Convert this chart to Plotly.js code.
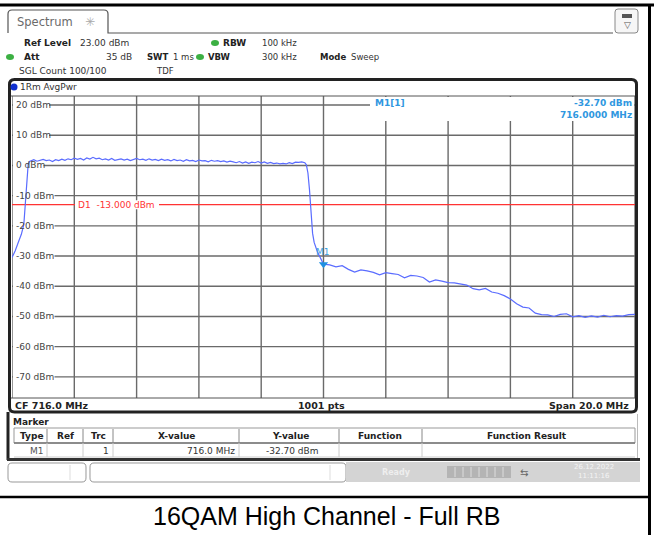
<!DOCTYPE html>
<html>
<head>
<meta charset="utf-8">
<script src="https://cdn.plot.ly/plotly-3.0.1.min.js"></script>
<style>
html,body{margin:0;padding:0;background:#fff;}
#chart{width:654px;height:535px;}
</style>
</head>
<body>
<div id="chart"></div>
<script>
// ---------- data ----------
const freqMHz = [
  706.0, 706.1, 706.2, 706.3, 706.38, 706.43, 706.47, 706.52, 706.56,
  706.6, 706.7, 706.8, 706.9, 707.0, 707.1, 707.2, 707.3, 707.4, 707.5,
  707.6, 707.7, 707.8, 707.9, 708.0, 708.1, 708.2, 708.3, 708.4, 708.5,
  708.6, 708.7, 708.8, 708.9, 709.0, 709.1, 709.2, 709.3, 709.4, 709.5,
  709.6, 709.7, 709.8, 709.9, 710.0, 710.1, 710.2, 710.3, 710.4, 710.5,
  710.6, 710.7, 710.8, 710.9, 711.0, 711.1, 711.2, 711.3, 711.4, 711.5,
  711.6, 711.7, 711.8, 711.9, 712.0, 712.1, 712.2, 712.3, 712.4, 712.5,
  712.6, 712.7, 712.8, 712.9, 713.0, 713.1, 713.2, 713.3, 713.4, 713.5,
  713.6, 713.7, 713.8, 713.9, 714.0, 714.1, 714.2, 714.3, 714.4, 714.5,
  714.6, 714.7, 714.8, 714.9, 715.0, 715.1, 715.2, 715.3, 715.4,
  715.45, 715.5, 715.55, 715.6, 715.65, 715.7, 715.8, 715.9, 716.0,
  716.2, 716.4, 716.6, 716.8, 717.0, 717.2, 717.4, 717.6, 717.8, 718.0,
  718.2, 718.4, 718.6, 718.8, 719.0, 719.2, 719.4, 719.6, 719.8, 720.0,
  720.2, 720.4, 720.6, 720.8, 721.0, 721.2, 721.4, 721.6, 721.8, 722.0,
  722.2, 722.4, 722.6, 722.8, 723.0, 723.2, 723.4, 723.6, 723.8, 724.0,
  724.2, 724.4, 724.6, 724.8, 725.0, 725.2, 725.4, 725.6, 725.8, 726.0
];
const powerDbm = [
  -30.5, -28.3, -25.5, -22.8, -19.5, -12.0, -5.0, 0.5, 1.3,
  1.5, 1.9, 1.4, 1.7, 2.0, 1.6, 1.8, 1.3, 1.9, 1.6,
  2.1, 1.7, 2.2, 1.9, 2.4, 2.0, 2.3, 1.8, 2.5, 2.1,
  2.7, 2.2, 2.4, 1.9, 2.2, 1.8, 2.3, 1.7, 2.0, 2.2,
  1.8, 2.1, 1.6, 2.0, 2.3, 1.9, 2.1, 1.7, 2.2, 1.8,
  2.0, 1.6, 2.1, 1.7, 1.9, 1.5, 2.0, 1.6, 1.8, 1.4,
  1.9, 1.5, 1.7, 1.3, 1.8, 1.5, 1.6, 1.2, 1.7, 1.4,
  1.6, 1.3, 1.5, 1.1, 1.4, 1.2, 0.9, 1.3, 0.8, 1.2,
  0.7, 1.1, 0.9, 1.3, 0.8, 1.2, 0.7, 1.0, 0.6, 0.8,
  0.5, 0.7, 0.5, 0.9, 0.6, 1.1, 1.0, 1.2, 0.9,
  0.2, -2.5, -8.0, -17.0, -22.5, -25.5, -28.5, -30.6, -32.7,
  -32.9, -33.6, -33.2, -34.4, -35.3, -34.6, -34.9, -35.4, -36.2, -35.5,
  -35.8, -36.1, -37.2, -36.4, -36.6, -37.1, -38.6, -37.9, -38.3, -38.8,
  -38.9, -39.3, -39.6, -40.8, -41.2, -40.7, -41.9, -42.3, -43.1, -44.2,
  -45.8, -46.9, -47.2, -48.9, -49.4, -49.5, -50.0, -49.3, -49.1, -50.1,
  -49.7, -50.3, -49.8, -50.2, -49.6, -50.1, -49.7, -49.9, -49.4, -49.3
];
const markerFreq = [716.0];
const markerLevel = [-32.7];
const displayLine = -13;
const xTickVals = [706, 708, 710, 712, 714, 716, 718, 720, 722, 724, 726];
const yTickVals = [20, 10, 0, -10, -20, -30, -40, -50, -60, -70];
const yTickText = ['20 dBm', '10 dBm', '0 dBm', '-10 dBm', '-20 dBm', '-30 dBm', '-40 dBm', '-50 dBm', '-60 dBm', '-70 dBm'];
const xRange = [706, 726];
const yRange = [-77, 23];
const captionText = '16QAM High Channel - Full RB';

// ---------- pixel helpers ----------
const L = 12, R = 635, T = 96, B = 398;
function px(x){ return (x - L) / (R - L); }
function py(y){ return (B - y) / (B - T); }
function pt(x, y){ return px(x).toFixed(5) + ',' + py(y).toFixed(5); }

const shapes = [];
const annotations = [];
function line(x0, y0, x1, y1, color, width, layer){
  shapes.push({type:'line', xref:'paper', yref:'paper', x0:px(x0), y0:py(y0), x1:px(x1), y1:py(y1),
    line:{color:color, width:width}, layer:layer || 'above'});
}
function rect(x0, y0, x1, y1, fill, stroke, width, layer){
  shapes.push({type:'rect', xref:'paper', yref:'paper', x0:px(x0), y0:py(y0), x1:px(x1), y1:py(y1),
    fillcolor:fill, line:{color:stroke || 'rgba(0,0,0,0)', width:width || 0}, layer:layer || 'above'});
}
function rrectPath(x0, y0, x1, y1, r){
  return 'M' + pt(x0 + r, y0) + ' L' + pt(x1 - r, y0) + ' Q' + pt(x1, y0) + ' ' + pt(x1, y0 + r) +
    ' L' + pt(x1, y1 - r) + ' Q' + pt(x1, y1) + ' ' + pt(x1 - r, y1) +
    ' L' + pt(x0 + r, y1) + ' Q' + pt(x0, y1) + ' ' + pt(x0, y1 - r) +
    ' L' + pt(x0, y0 + r) + ' Q' + pt(x0, y0) + ' ' + pt(x0 + r, y0) + ' Z';
}
function path(d, stroke, width, fill, layer){
  shapes.push({type:'path', xref:'paper', yref:'paper', path:d, fillcolor:fill || 'rgba(0,0,0,0)',
    line:{color:stroke, width:width}, layer:layer || 'above'});
}
function ellipse(cx, cy, rx, ry, fill){
  shapes.push({type:'circle', xref:'paper', yref:'paper', x0:px(cx - rx), y0:py(cy + ry), x1:px(cx + rx), y1:py(cy - ry),
    fillcolor:fill, line:{width:0}, layer:'above'});
}
function txt(x, y, text, o){
  o = o || {};
  annotations.push({xref:'paper', yref:'paper', x:px(x), y:py(y), text:text, showarrow:false,
    xanchor:o.anchor || 'left', yanchor:'middle', borderpad:0,
    font:{family:o.family || 'DejaVu Sans', size:o.size || 9, color:o.color || '#222'}});
}

// ---------- grid (below the trace), drawn from the tick arrays ----------
const gridColor = '#6a6a6a';
xTickVals.forEach(function(v){
  shapes.push({type:'line', xref:'x', yref:'paper', x0:v, x1:v, y0:0, y1:1,
    line:{color:gridColor, width:1.4}, layer:'below'});
});
yTickVals.forEach(function(v){
  shapes.push({type:'line', xref:'paper', yref:'y', x0:0, x1:1, y0:v, y1:v,
    line:{color:gridColor, width:1.4}, layer:'below'});
});
// cover for marker-info area (hides gridlines behind it)
rect(370, 97, 634, 121, '#fff', null, 0, 'below');
// y labels inside plot, with white background over the grid line
yTickVals.forEach(function(v, i){
  const w = yTickText[i].length * 5.5;
  shapes.push({type:'rect', xref:'paper', yref:'y', x0:px(13), x1:px(16 + w), y0:v - 1.6, y1:v + 1.6,
    fillcolor:'#fff', line:{width:0}, layer:'below'});
  annotations.push({xref:'paper', yref:'y', x:px(15), y:v, text:yTickText[i], showarrow:false,
    xanchor:'left', yanchor:'middle', borderpad:0, font:{family:'DejaVu Sans', size:9, color:'#444'}});
});
// display line D1
shapes.push({type:'line', xref:'paper', yref:'y', x0:0, x1:1, y0:displayLine, y1:displayLine,
  line:{color:'#ff3333', width:1.3}, layer:'below'});
shapes.push({type:'rect', xref:'paper', yref:'y', x0:px(75), x1:px(159), y0:displayLine - 1.5, y1:displayLine + 1.5,
  fillcolor:'#fff', line:{width:0}, layer:'below'});
annotations.push({xref:'paper', yref:'y', x:px(77), y:displayLine, text:'D1  -13.000 dBm', showarrow:false,
  xanchor:'left', yanchor:'middle', borderpad:0, font:{family:'DejaVu Sans', size:9, color:'#ff3333'}});

// ---------- outer frame / caption ----------
line(0, 5, 654, 5, '#000', 3);
line(649.5, 5, 649.5, 535, '#000', 3);
line(0, 497, 651, 497, '#000', 2.5);
txt(326, 516, captionText, {anchor:'center', family:'Liberation Sans, Arial, sans-serif', size:25, color:'#000'});

// ---------- header ----------
path('M' + pt(8, 33) + ' L' + pt(8, 14) + ' Q' + pt(8, 10) + ' ' + pt(12, 10) + ' L' + pt(104, 10) +
     ' Q' + pt(108, 10) + ' ' + pt(108, 14) + ' L' + pt(108, 33) + ' L' + pt(613, 33), '#555', 1.2);
txt(16, 22, 'Spectrum', {size:11.5, color:'#6a6a6a'});
txt(90, 22, '✳', {anchor:'center', size:12, color:'#aaa'});
path(rrectPath(615, 9, 638, 33, 3), '#888', 1, '#f6f6f6');
rect(622, 14, 632, 18, '#555');
txt(627, 25, '▽', {anchor:'center', size:9, color:'#555'});

txt(23, 43, '<b>Ref Level</b>', {});
txt(79, 43, '23.00 dBm', {color:'#333'});
ellipse(215, 43, 4, 3, '#3cb043');
txt(222, 43, '<b>RBW</b>', {});
txt(261, 43, '100 kHz', {color:'#333', size:8.5});

ellipse(10, 57, 4, 3, '#3cb043');
txt(23, 57, '<b>Att</b>', {});
txt(133, 57, '35 dB', {anchor:'right', color:'#333'});
txt(146, 57, '<b>SWT</b>', {size:8.5});
txt(172, 57, '1 ms', {color:'#333', size:8.5});
ellipse(200, 57, 4, 3, '#3cb043');
txt(207, 57, '<b>VBW</b>', {size:8.5});
txt(261, 57, '300 kHz', {color:'#333', size:8.5});
txt(319, 57, '<b>Mode</b>', {size:8.5});
txt(350, 57, 'Sweep', {color:'#333', size:8.5});

txt(18, 71, 'SGL Count 100/100', {color:'#333'});
txt(155, 71, 'TDF', {color:'#333', size:8.5});

// ---------- trace window ----------
path(rrectPath(9.5, 79.5, 636.5, 412, 5), '#222', 3);
line(11, 96, 635, 96, '#555', 1);
ellipse(14, 87, 3.5, 3.5, '#1030d0');
txt(19, 87, '1Rm AvgPwr', {color:'#333'});

txt(374, 103, '<b>M1[1]</b>', {color:'#2f97e0'});
txt(633, 103, '<b>-32.70 dBm</b>', {anchor:'right', color:'#2f97e0'});
txt(633, 115, '<b>716.0000 MHz</b>', {anchor:'right', color:'#2f97e0'});

// bottom status row of the trace window
line(11, 398, 635, 398, '#555', 1);
txt(14, 405, '<b>CF 716.0 MHz</b>', {size:9.5, color:'#222'});
txt(321, 405, '<b>1001 pts</b>', {anchor:'center', size:9.5, color:'#222'});
txt(630, 405, '<b>Span 20.0 MHz</b>', {anchor:'right', size:9.5, color:'#222'});

// ---------- marker table panel ----------
line(8, 412, 8, 460, '#222', 3);
line(637.5, 414, 637.5, 459, '#bbb', 1);
line(7, 459.5, 640, 459.5, '#333', 3);
txt(12, 422, '<b>Marker</b>', {color:'#222'});
rect(14, 428, 635, 443, 'rgba(0,0,0,0)', '#999', 1);
line(14, 443, 635, 443, '#777', 1.5);
line(14, 457, 635, 457, '#ccc', 1);
[47, 83, 113, 239, 339, 422].forEach(function(x){
  line(x, 429, x, 443, '#888', 1);
  line(x, 443, x, 457, '#ccc', 1);
});
txt(31, 436, '<b>Type</b>', {anchor:'center'});
txt(65, 436, '<b>Ref</b>', {anchor:'center'});
txt(98, 436, '<b>Trc</b>', {anchor:'center'});
txt(176, 436, '<b>X-value</b>', {anchor:'center'});
txt(290, 436, '<b>Y-value</b>', {anchor:'center'});
txt(380, 436, '<b>Function</b>', {anchor:'center'});
txt(527, 436, '<b>Function Result</b>', {anchor:'center'});
txt(45, 451, 'M1', {anchor:'right', color:'#555'});
txt(110, 451, '1', {anchor:'right', color:'#333'});
txt(236, 451, '716.0 MHz', {anchor:'right', color:'#333'});
txt(320, 451, '-32.70 dBm', {anchor:'right', color:'#333'});

// ---------- status bar ----------
path(rrectPath(8, 463, 86, 482, 4), '#999', 1);
line(70, 465, 70, 480, '#ddd', 1);
path(rrectPath(90, 463, 346, 482, 4), '#999', 1);
line(330, 465, 330, 480, '#ddd', 1);
rect(346, 462, 640, 482, '#d4d4d4');
txt(396, 472, '<b>Ready</b>', {anchor:'center', size:8, color:'#eee'});
rect(447, 466, 511, 478, '#b4b4b4');
[455, 463, 471, 479, 487, 495, 503].forEach(function(x){ line(x, 467, x, 477, '#ddd', 1); });
txt(524, 472, '⇆', {anchor:'center', size:10, color:'#666'});
txt(594, 467, '26.12.2022', {anchor:'center', size:7, color:'#f4f4f4'});
txt(594, 476, '11:11:16', {anchor:'center', size:7, color:'#f4f4f4'});

// ---------- traces ----------
const traces = [
  {x:freqMHz, y:powerDbm, type:'scatter', mode:'lines', line:{color:'#5a6cff', width:1.2}, hoverinfo:'skip'},
  {x:markerFreq, y:markerLevel, type:'scatter', mode:'markers',
   marker:{symbol:'triangle-down', size:8, color:'#1f8fe0'}, hoverinfo:'skip'}
];
annotations.push({xref:'x', yref:'y', x:markerFreq[0], y:markerLevel[0], text:'M1', showarrow:false,
  yshift:12, xshift:-1, font:{family:'DejaVu Sans', size:9, color:'#3aa0e0'}});

const layout = {
  width:654, height:535,
  margin:{l:L, r:654 - R, t:T, b:535 - B, pad:0},
  paper_bgcolor:'#fff', plot_bgcolor:'#fff',
  showlegend:false,
  xaxis:{range:xRange, tickvals:xTickVals, showgrid:false,
         showticklabels:false, ticks:'', zeroline:false, showline:false, fixedrange:true},
  yaxis:{range:yRange, tickvals:yTickVals, showgrid:false,
         showticklabels:false, ticks:'', zeroline:false, showline:false, fixedrange:true},
  shapes:shapes,
  annotations:annotations
};
Plotly.newPlot('chart', traces, layout, {staticPlot:true, displayModeBar:false});
</script>
</body>
</html>
